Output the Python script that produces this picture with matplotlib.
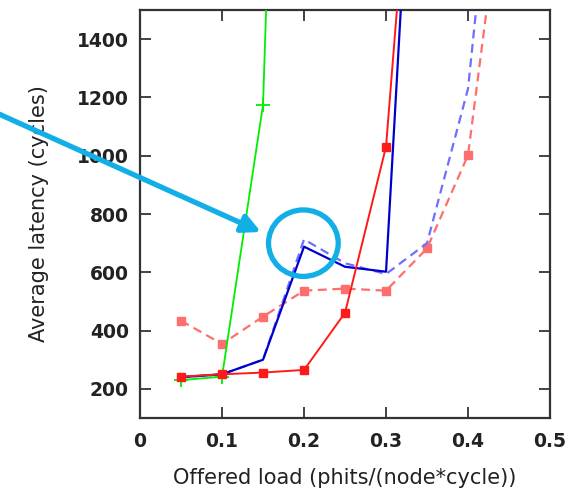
import matplotlib
matplotlib.use("Agg")
import matplotlib.pyplot as plt
from matplotlib.patches import Ellipse

# Offered load values (x) for every series
load = [0.05, 0.10, 0.15, 0.20, 0.25, 0.30, 0.35, 0.40, 0.45]

# Average latency (cycles) per series
green_x = [0.05, 0.10, 0.15, 0.20]
green_y = [230, 242, 1175, 5500]

red_x = [0.05, 0.10, 0.15, 0.20, 0.25, 0.30, 0.35]
red_y = [242, 250, 256, 265, 461, 1031, 2800]

blue_x = [0.05, 0.10, 0.15, 0.20, 0.25, 0.30, 0.35]
blue_y = [240, 250, 300, 688, 619, 602, 3100]

blue_dash_y = [240, 250, 300, 713, 631, 594, 700, 1230, 2600]
red_dash_y = [434, 354, 448, 537, 544, 537, 682, 1002, 2100]

xticks = [0, 0.1, 0.2, 0.3, 0.4, 0.5]
xtick_labels = ["0", "0.1", "0.2", "0.3", "0.4", "0.5"]
yticks = [200, 400, 600, 800, 1000, 1200, 1400]

plt.rcParams["font.family"] = ["DejaVu Sans"]

fig = plt.figure(figsize=(5.76, 4.90), dpi=100)
ax = fig.add_axes([0.2431, 0.1469, 0.7118, 0.8327])

ax.plot(load, red_dash_y, color="#ff6e6e", lw=1.6, ls=(0, (4, 2.5)),
        marker="s", ms=5.5, zorder=2)
ax.plot(load, blue_dash_y, color="#6e6eff", lw=1.6, ls=(0, (4, 2.5)), zorder=2)
ax.plot(green_x, green_y, color="#00ee00", lw=1.3, marker="+", ms=10,
        mew=1.3, zorder=3)
ax.plot(blue_x, blue_y, color="#0000cc", lw=1.6, zorder=4)
ax.plot(red_x, red_y, color="#ff1a1a", lw=1.4, marker="s", ms=5.5, zorder=5)

ax.set_xlim(0, 0.5)
ax.set_ylim(100, 1500)
ax.set_xticks(xticks)
ax.set_xticklabels(xtick_labels)
ax.set_yticks(yticks)

ax.tick_params(direction="in", length=8, width=1.2, top=True, right=True,
               labelsize=13.5, colors="#222222")
ax.tick_params(axis="x", pad=10)
ax.tick_params(axis="y", pad=8)
for lab in ax.get_xticklabels() + ax.get_yticklabels():
    lab.set_fontweight("bold")
for sp in ax.spines.values():
    sp.set_linewidth(1.6)
    sp.set_color("#333333")

ax.set_xlabel("Offered load (phits/(node*cycle))", fontsize=15,
              color="#222222", labelpad=12)
ax.set_ylabel("Average latency (cycles)", fontsize=15, color="#222222",
              labelpad=20)

# highlight circle and arrow
ax.add_patch(Ellipse((0.1992, 700), 0.085, 228, fill=False,
                     edgecolor="#12aee6", lw=3.8, zorder=6))
ax.annotate("", xy=(261, 490 - 232), xycoords="figure pixels",
            xytext=(-10, 490 - 110), textcoords="figure pixels",
            arrowprops=dict(arrowstyle="-|>,head_length=1.1,head_width=0.55",
                            color="#12aee6", lw=3.8, shrinkA=0, shrinkB=0),
            annotation_clip=False, zorder=7)

fig.savefig("out.png", dpi=100)
